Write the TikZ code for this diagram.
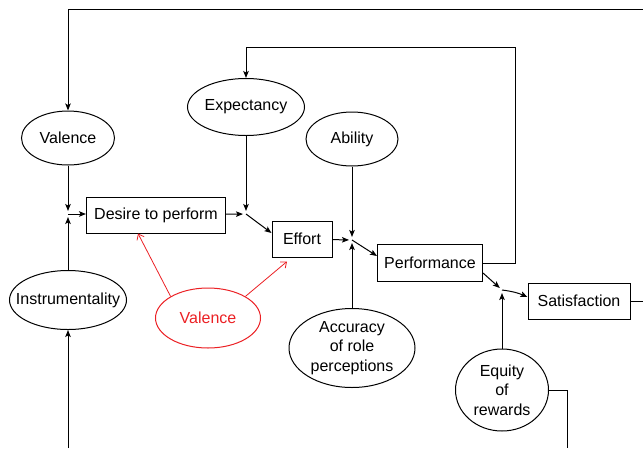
\documentclass[tikz,border=0pt]{standalone}
\usepackage{fontspec}
\setmainfont{Liberation Sans}
\usetikzlibrary{calc}
\usetikzlibrary{arrows.meta}
\usetikzlibrary{shapes.geometric}
\definecolor{valred}{RGB}{235,32,36}

\begin{document}
\begin{tikzpicture}[x=1pt, y=-1pt, line width=1pt, >={Stealth[length=7pt,width=5.5pt,inset=1.5pt]},
 font=\fontsize{16}{19.5}\selectfont,
 oval/.style={draw, ellipse, inner sep=0, align=center},
 rbox/.style={draw, rectangle, inner sep=0},
 tojn/.style={->, shorten >=3}]
\useasboundingbox (0,0) rectangle (643,448);
\node[oval, minimum width=93, minimum height=54] (val) at (68,138) {Valence};
\node[oval, minimum width=117, minimum height=57] (exp) at (246,107) {Expectancy};
\node[oval, minimum width=92, minimum height=54] (abl) at (352,139) {Ability};
\node[oval, minimum width=117, minimum height=59, inner xsep=-11] (inst) at (68,300) {Instrumentality};
\node[oval, valred, minimum width=105, minimum height=60] (rval) at (208,318) {Valence};
\node[oval, minimum width=126, minimum height=79] (acc) at (352,348) {Accuracy\\of role\\perceptions};
\node[oval, minimum width=93, minimum height=82] (eq) at (502,390) {Equity\\of\\rewards};
\node[rbox, minimum width=139, minimum height=36] (des) at (156,215) {Desire to perform};
\node[rbox, minimum width=60, minimum height=36] (eff) at (302,239) {Effort};
\node[rbox, minimum width=105, minimum height=37] (perf) at (430,263) {Performance};
\node[rbox, minimum width=102, minimum height=36] (sat) at (579,301) {Satisfaction};
\coordinate (j1) at (68,214);
\coordinate (j2) at (246,214);
\coordinate (j3) at (352,240);
\coordinate (j4) at (502,290);
\coordinate (topin) at (643,9);
\coordinate (satout) at (643,301);
\coordinate (eqout) at (567,448);
\coordinate (instin) at (68,448);
\draw[tojn] (val) -- (j1);
\draw[tojn] (inst) -- (j1);
\draw[->] (j1) -- (des.west |- j1);
\draw[tojn] (exp) -- (j2);
\draw[tojn] (des) -- (j2);
\draw[->] (j2) -- ($(eff.west)+(0,-6)$);
\draw[tojn] (eff) -- (j3);
\draw[tojn] (abl) -- (j3);
\draw[tojn] (acc) -- (j3);
\draw[->] (j3) -- ($(perf.west)+(0,-7)$);
\draw[tojn] ($(perf.east)+(0,10)$) -- (j4);
\draw[tojn] (eq) -- (j4);
\draw[->] (j4) to[bend left=8] ($(sat.west)+(0,-4)$);
\draw[->] (perf.east) -| (515,47) -| (exp.north);
\draw[->] (topin) -| (val.north);
\draw (sat.east) -- (satout);
\draw (eq.east) -| (eqout);
\draw[->] (instin) -- (inst);
\draw[valred, line width=.8pt, -{Straight Barb[length=5pt,width=8pt]}] (rval.150) -- ($(des.south)+(-18,0)$);
\draw[valred, line width=.8pt, -{Straight Barb[length=5pt,width=8pt]}] (rval.30) -- ($(eff.south)+(-15,4)$);
\end{tikzpicture}
\end{document}
